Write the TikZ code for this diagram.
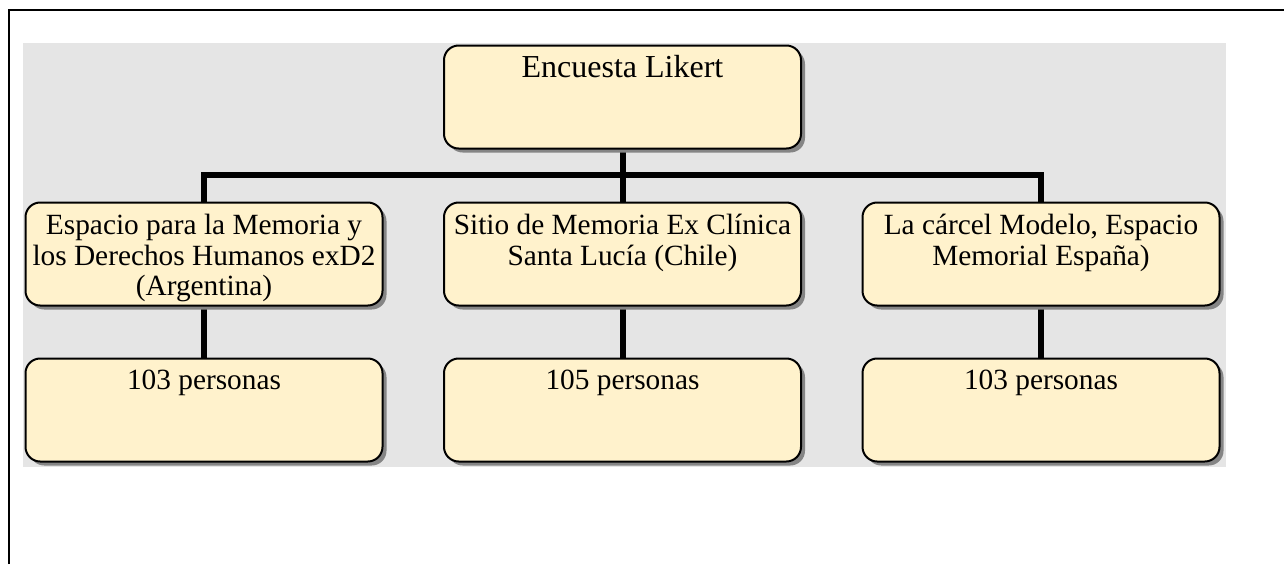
\documentclass[tikz,border=0pt]{standalone}
\usepackage{fontspec}
\setmainfont{Liberation Serif}
\usetikzlibrary{shadows}
\pgfdeclarelayer{bg}
\pgfdeclarelayer{wires}
\pgfsetlayers{bg,wires,main}
\definecolor{cream}{HTML}{FFF2CC}
\definecolor{panel}{HTML}{E5E5E5}
\definecolor{shade}{HTML}{858585}
\newcommand\bigfnt{\fontsize{24pt}{28pt}\selectfont}
\newcommand\medfnt{\fontsize{22pt}{23pt}\selectfont}
\begin{document}
\begin{tikzpicture}[x=0.75pt,y=-0.75pt,
  box/.style={draw, line width=1.5pt, rounded corners=11pt, fill=cream,
    minimum width=267.75pt, minimum height=77.25pt, inner sep=0pt,
    drop shadow={shadow xshift=3pt, shadow yshift=-3pt, fill=shade, opacity=1}},
  wire/.style={line width=4.5pt},
  lbl/.style={anchor=north, inner sep=0pt, align=center, font=\medfnt},
  frame/.style={line width=1.7pt}]
\useasboundingbox (0,0) rectangle (1284,564);
\draw[frame] (9,564) -- (9,10) -- (1284,10);
\begin{pgfonlayer}{bg}
\fill[panel] (23,43) rectangle (1226,467);
\end{pgfonlayer}
\node[box] (top) at (622.5,97) {};
\node[box] (m1) at (204,254) {};
\node[box] (m2) at (622.5,254) {};
\node[box] (m3) at (1041,254) {};
\node[box] (b1) at (204,410) {};
\node[box] (b2) at (622.5,410) {};
\node[box] (b3) at (1041,410) {};
\node[lbl, font=\bigfnt] (t0) at (622.5,55) {Encuesta Likert};
\node[lbl] (t1) at (204,214) {Espacio para la Memoria y\\los Derechos Humanos exD2\\(Argentina)};
\node[lbl] (t2) at (622.5,214) {Sitio de Memoria Ex Clínica\\Santa Lucía (Chile)};
\node[lbl] (t3) at (1041,214) {La cárcel Modelo, Espacio\\Memorial España)};
\node[lbl] (t4) at (204,370) {103 personas};
\node[lbl] (t5) at (622.5,370) {105 personas};
\node[lbl] (t6) at (1041,370) {103 personas};
\coordinate (bus) at (622.5,175);
\begin{pgfonlayer}{wires}
\draw[wire] (top.south) -- (m2.north);
\draw[wire] (m1.north) -- (m1.north |- bus) -- (m3.north |- bus) -- (m3.north);
\draw[wire] (m1.south) -- (b1.north);
\draw[wire] (m2.south) -- (b2.north);
\draw[wire] (m3.south) -- (b3.north);
\end{pgfonlayer}
\end{tikzpicture}
\end{document}
